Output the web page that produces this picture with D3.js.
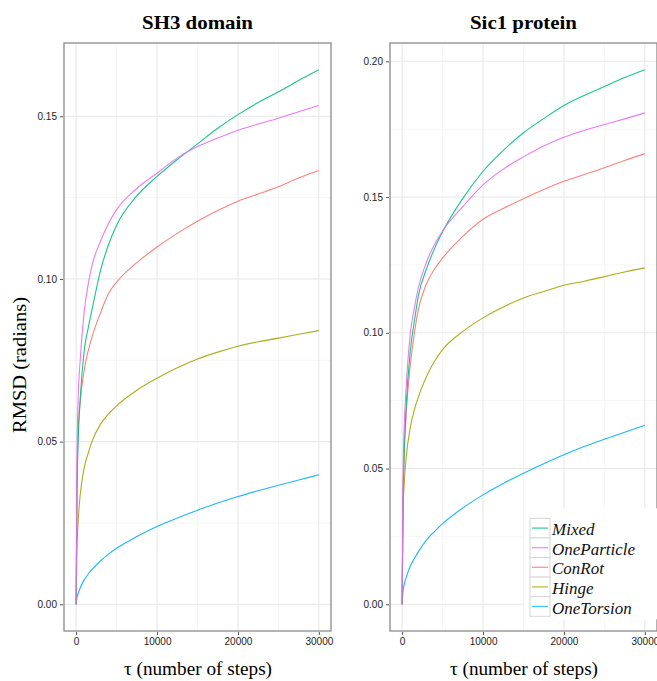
<!DOCTYPE html>
<html><head><meta charset="utf-8">
<script src="https://cdn.jsdelivr.net/npm/d3@7"></script>
<style>body{margin:0;background:#fff;}svg{display:block;}</style>
</head><body>
<svg id="chart" width="657" height="681"></svg>
<script>
const steps = [0, 100, 250, 500, 1000, 1500, 2000, 3000, 4000, 5000, 7500, 10000, 12500, 15000, 17500, 20000, 22500, 25000, 27500, 30000];
const seriesNames = ["Mixed", "OneParticle", "ConRot", "Hinge", "OneTorsion"];
const seriesColors = ["#00BF7D", "#E76BF3", "#F8766D", "#A3A500", "#00B0F6"];
const panelTitles = ["SH3 domain", "Sic1 protein"];
const xTicks = [0, 10000, 20000, 30000];
const yTicksSH3 = [0.00, 0.05, 0.10, 0.15];
const yTicksSic1 = [0.00, 0.05, 0.10, 0.15, 0.20];

const sh3Mixed   = [0, 0.033, 0.050, 0.063, 0.078, 0.085, 0.091, 0.1025, 0.1105, 0.1165, 0.1255, 0.1315, 0.1367, 0.1415, 0.1463, 0.1505, 0.1542, 0.1575, 0.161, 0.1643];
const sh3OnePart = [0, 0.045, 0.063, 0.075, 0.090, 0.0985, 0.1045, 0.1115, 0.117, 0.1213, 0.1278, 0.1325, 0.1372, 0.1407, 0.1433, 0.1457, 0.1476, 0.1494, 0.1514, 0.1533];
const sh3ConRot  = [0, 0.035, 0.053, 0.062, 0.072, 0.078, 0.0825, 0.0895, 0.0955, 0.099, 0.105, 0.1098, 0.114, 0.1177, 0.121, 0.1239, 0.1261, 0.1283, 0.131, 0.1333];
const sh3Hinge   = [0, 0.017, 0.0255, 0.0335, 0.042, 0.0465, 0.0503, 0.0553, 0.0585, 0.061, 0.0658, 0.0695, 0.0727, 0.0754, 0.0775, 0.0793, 0.0807, 0.0818, 0.083, 0.0841];
const sh3OneTor  = [0, 0.002, 0.0033, 0.005, 0.0075, 0.0093, 0.0108, 0.0133, 0.0154, 0.0172, 0.0208, 0.0239, 0.0265, 0.0289, 0.0311, 0.0331, 0.0349, 0.0366, 0.0382, 0.0398];

const sic1Mixed   = [0, 0.035, 0.055, 0.073, 0.093, 0.104, 0.1135, 0.1235, 0.131, 0.1372, 0.1495, 0.1595, 0.1672, 0.1737, 0.1789, 0.1837, 0.1874, 0.1907, 0.194, 0.1969];
const sic1OnePart = [0, 0.045, 0.065, 0.080, 0.0995, 0.109, 0.1165, 0.126, 0.1325, 0.1375, 0.1465, 0.1545, 0.1603, 0.1648, 0.1688, 0.172, 0.1745, 0.1767, 0.1788, 0.181];
const sic1ConRot  = [0, 0.035, 0.055, 0.070, 0.088, 0.0995, 0.1085, 0.118, 0.1235, 0.1275, 0.1355, 0.1418, 0.1458, 0.1494, 0.1528, 0.1558, 0.1583, 0.1608, 0.1635, 0.166];
const sic1Hinge   = [0, 0.034, 0.044, 0.054, 0.065, 0.0715, 0.0763, 0.0838, 0.0895, 0.0938, 0.1005, 0.1055, 0.1095, 0.1128, 0.1152, 0.1175, 0.119, 0.1207, 0.1224, 0.1239];
const sic1OneTor  = [0, 0.0045, 0.0072, 0.0098, 0.014, 0.0168, 0.0193, 0.0236, 0.0268, 0.0297, 0.0355, 0.0403, 0.0445, 0.0483, 0.0518, 0.0551, 0.0581, 0.0608, 0.0634, 0.0659];

const panels = [
  {title: panelTitles[0], series: [sh3Mixed, sh3OnePart, sh3ConRot, sh3Hinge, sh3OneTor], yTicks: yTicksSH3, left: 64, legend: false},
  {title: panelTitles[1], series: [sic1Mixed, sic1OnePart, sic1ConRot, sic1Hinge, sic1OneTor], yTicks: yTicksSic1, left: 390, legend: true}
];

const svg = d3.select("#chart");
const pTop = 43, pBottom = 631, pw = 267;
const serif = "'Liberation Serif', 'Times New Roman', serif";
const sans = "'Liberation Sans', Arial, sans-serif";

function expand(lo, hi) { const d = (hi - lo) * 0.05; return [lo - d, hi + d]; }

panels.forEach(p => {
  const xr = expand(d3.min(steps), d3.max(steps));
  const allV = p.series.flat();
  const yr = expand(d3.min(allV), d3.max(allV));
  const x = d3.scaleLinear().domain(xr).range([p.left, p.left + pw]);
  const y = d3.scaleLinear().domain(yr).range([pBottom, pTop]);
  const g = svg.append("g");

  // minor grid
  const xMinor = xTicks.slice(0, -1).map((t, i) => (t + xTicks[i + 1]) / 2);
  const yMinor = [];
  p.yTicks.forEach((t, i) => { if (i < p.yTicks.length - 1) yMinor.push((t + p.yTicks[i + 1]) / 2); });
  const last = p.yTicks[p.yTicks.length - 1], stp = p.yTicks[1] - p.yTicks[0];
  if (last + stp / 2 < yr[1]) yMinor.push(last + stp / 2);
  g.selectAll(".xminor").data(xMinor).enter().append("line")
    .attr("x1", d => x(d)).attr("x2", d => x(d)).attr("y1", pTop).attr("y2", pBottom)
    .attr("stroke", "#f4f4f4").attr("stroke-width", 0.8);
  g.selectAll(".yminor").data(yMinor).enter().append("line")
    .attr("y1", d => y(d)).attr("y2", d => y(d)).attr("x1", p.left).attr("x2", p.left + pw)
    .attr("stroke", "#f4f4f4").attr("stroke-width", 0.8);
  // major grid
  g.selectAll(".xmajor").data(xTicks).enter().append("line")
    .attr("x1", d => x(d)).attr("x2", d => x(d)).attr("y1", pTop).attr("y2", pBottom)
    .attr("stroke", "#e8e8e8").attr("stroke-width", 1.1);
  g.selectAll(".ymajor").data(p.yTicks).enter().append("line")
    .attr("y1", d => y(d)).attr("y2", d => y(d)).attr("x1", p.left).attr("x2", p.left + pw)
    .attr("stroke", "#e8e8e8").attr("stroke-width", 1.1);

  // lines
  const line = d3.line().x((d, i) => x(steps[i])).y(d => y(d)).curve(d3.curveMonotoneX);
  const order = [4, 3, 2, 0, 1];
  order.forEach(k => {
    g.append("path").datum(p.series[k]).attr("d", line)
      .attr("fill", "none").attr("stroke", seriesColors[k]).attr("stroke-width", 1.1)
      .attr("stroke-opacity", 0.9);
  });

  // border
  g.append("rect").attr("x", p.left).attr("y", pTop).attr("width", pw).attr("height", pBottom - pTop)
    .attr("fill", "none").attr("stroke", "#8a8a8a").attr("stroke-width", 1.3);

  // axes
  const ya = g.append("g").attr("transform", `translate(${p.left - 1},0)`)
    .call(d3.axisLeft(y).tickValues(p.yTicks).tickFormat(d3.format(".2f")).tickSize(3).tickPadding(3));
  const xa = g.append("g").attr("transform", `translate(0,${pBottom + 1})`)
    .call(d3.axisBottom(x).tickValues(xTicks).tickFormat(d3.format("d")).tickSize(3).tickPadding(3));
  [ya, xa].forEach(a => {
    a.select(".domain").remove();
    a.selectAll(".tick line").attr("stroke", "#555").attr("stroke-width", 1);
    a.selectAll(".tick text").attr("fill", "#222").style("font-family", sans).style("font-size", "10px");
  });

  // title
  g.append("text").attr("x", p.left + pw / 2).attr("y", 29).attr("text-anchor", "middle")
    .style("font-family", serif).style("font-weight", "bold").style("font-size", "19px")
    .attr("textLength", p.legend ? 107 : 111).attr("lengthAdjust", "spacingAndGlyphs")
    .text(p.title);
  // x title
  g.append("text").attr("x", p.left + 134).attr("y", 675).attr("text-anchor", "middle")
    .style("font-family", serif).style("font-size", "18px")
    .attr("textLength", 148).attr("lengthAdjust", "spacingAndGlyphs")
    .text("\u03C4 (number of steps)");

  if (p.legend) {
    const lx = 530, ly = 518.3, rh = 19.6, kw = 20;
    const lg = g.append("g");
    lg.append("rect").attr("x", lx - 5).attr("y", ly - 10).attr("width", 140).attr("height", rh * 5 + 13).attr("fill", "#fff");
    seriesNames.forEach((n, i) => {
      const yy = ly + i * rh;
      lg.append("rect").attr("x", lx).attr("y", yy).attr("width", kw).attr("height", rh)
        .attr("fill", "#fff").attr("stroke", "#d6d6d6").attr("stroke-width", 1);
      lg.append("line").attr("x1", lx + 2).attr("x2", lx + kw - 2).attr("y1", yy + rh / 2).attr("y2", yy + rh / 2)
        .attr("stroke", seriesColors[i]).attr("stroke-width", 1.3).attr("stroke-opacity", 0.75);
      lg.append("text").attr("x", lx + kw + 2).attr("y", yy + rh / 2 + 7)
        .style("font-family", serif).style("font-style", "italic").style("font-size", "17px")
        .attr("fill", "#111").text(n);
    });
  }
});

// y axis title
svg.append("text").attr("transform", "translate(26,365) rotate(-90)").attr("text-anchor", "middle")
  .style("font-family", serif).style("font-size", "18px")
  .attr("textLength", 136).attr("lengthAdjust", "spacingAndGlyphs")
  .text("RMSD (radians)");
</script>
</body></html>
